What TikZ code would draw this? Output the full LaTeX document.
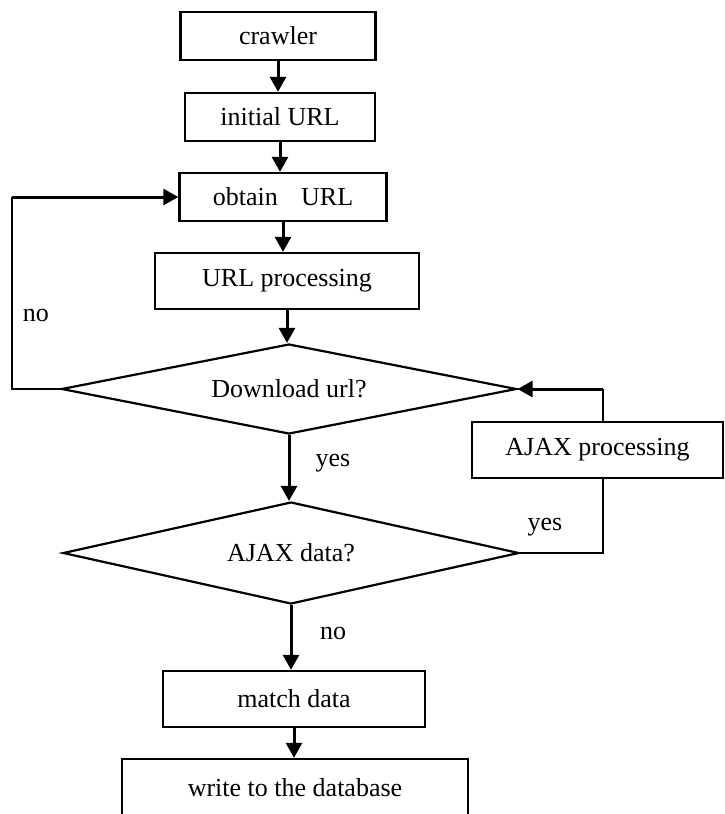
\documentclass[tikz,border=0pt]{standalone}
\usepackage{fontspec}
\setmainfont{Liberation Serif}
\usetikzlibrary{arrows.meta,shapes.geometric}
\begin{document}
\begin{tikzpicture}[x=1pt,y=-1pt,
  every node/.style={font=\fontsize{26}{30}\selectfont},
  stepbox/.style={draw,line width=2.4pt,rectangle,inner sep=0pt,anchor=center},
  decide/.style={draw,line width=2.2pt,diamond,shape aspect=5,inner sep=0pt,anchor=center},
  arr/.style={line width=3pt,-{Triangle[length=15pt,width=16pt]}},
  thinline/.style={line width=2pt},
  lbl/.style={inner sep=0pt,anchor=center}]
\useasboundingbox (0,0) rectangle (725,814);
\clip (0,0) rectangle (725,814);
\fill[white] (0,0) rectangle (725,814);
\node[stepbox,minimum width=195pt,minimum height=48pt] (crawler) at (278,36) {crawler};
\node[stepbox,minimum width=190pt,minimum height=48pt] (initial) at (280,117) {initial URL};
\node[stepbox,minimum width=207pt,minimum height=48pt] (obtain) at (283,197) {obtain\hspace{0.9em}URL};
\node[stepbox,minimum width=264pt,minimum height=56pt] (urlproc) at (287,281) {URL processing};
\node[decide,minimum width=455pt,minimum height=90pt] (download) at (289,389) {Download url?};
\node[decide,minimum width=456pt,minimum height=102pt] (ajaxdata) at (291,553) {AJAX data?};
\node[stepbox,minimum width=251pt,minimum height=56pt] (ajaxproc) at (597.5,450) {AJAX processing};
\node[stepbox,minimum width=262pt,minimum height=56pt] (match) at (294,699) {match data};
\node[stepbox,minimum width=346pt,minimum height=58pt] (write) at (295,788) {write to the database};

\draw[arr] (crawler.south) -- (crawler.south |- initial.north);
\draw[arr] (initial.south) -- (initial.south |- obtain.north);
\draw[arr] (obtain.south) -- (obtain.south |- urlproc.north);
\draw[arr] (urlproc.south) -- (urlproc.south |- download.north);
\draw[arr] (download.south) -- (download.south |- ajaxdata.north);
\draw[arr] (ajaxdata.south) -- (ajaxdata.south |- match.north);
\draw[arr] (match.south) -- (match.south |- write.north);

\coordinate (nl) at (12,389);
\coordinate (nt) at (12,197);
\draw[thinline] (download.west) -- (nl) -- (nt);
\draw[arr] (nt) -- (obtain.west);

\coordinate (rb) at (603,553);
\draw[thinline] (ajaxdata.east) -- (rb) -- (rb |- ajaxproc.south);
\draw[thinline] (rb |- ajaxproc.north) -- (rb |- download.east);
\draw[arr] (rb |- download.east) -- (download.east);

\node[lbl] (no1) at (36,315) {no};
\node[lbl] (yes1) at (333,463) {yes};
\node[lbl] (yes2) at (545,527) {yes};
\node[lbl] (no2) at (333,633) {no};
\end{tikzpicture}
\end{document}
